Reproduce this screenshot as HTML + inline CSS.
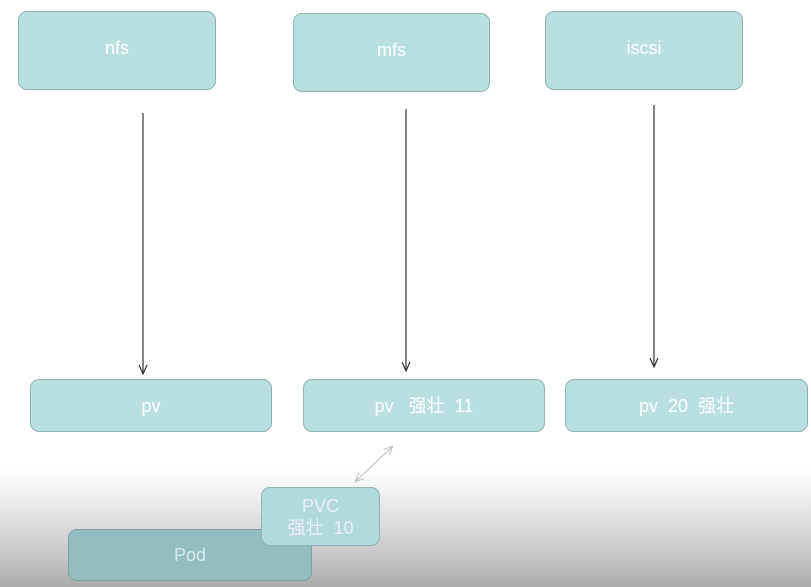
<!DOCTYPE html>
<html><head><meta charset="utf-8"><style>
html,body{margin:0;padding:0}
body{width:811px;height:587px;position:relative;overflow:hidden;font-family:"Liberation Sans","Noto Sans CJK SC",sans-serif;
background:linear-gradient(to bottom,#fff 0px,#fff 470px,#e6e6e6 510px,#c4c4c4 560px,#aaa 587px);}
.b{position:absolute;box-sizing:border-box;background:#b9dfe1;border:1px solid #8fb3b5;border-radius:9px;color:#fff;display:flex;align-items:center;justify-content:center;font-size:18px;text-align:center;line-height:22px}
svg{position:absolute;left:0;top:0}
</style></head><body>
<div class="b" style="left:18px;top:11px;width:198px;height:79px;padding-bottom:6px">nfs</div>
<div class="b" style="left:293px;top:13px;width:197px;height:79px;padding-bottom:6px">mfs</div>
<div class="b" style="left:545px;top:11px;width:198px;height:79px;padding-bottom:6px">iscsi</div>
<div class="b" style="left:30px;top:379px;width:242px;height:53px">pv</div>
<div class="b" style="left:303px;top:379px;width:242px;height:53px">pv &nbsp; 强壮 &nbsp;11</div>
<div class="b" style="left:565px;top:379px;width:243px;height:53px">pv &nbsp;20 &nbsp;强壮</div>
<div class="b" style="left:68px;top:529px;width:244px;height:52px;background:#93bdbf;border-color:#7a9fa1;color:#d8ecec">Pod</div>
<div class="b" style="left:261px;top:487px;width:119px;height:59px;background:#b2d9db;color:#eef">PVC<br>强壮 &nbsp;10</div>
<svg width="811" height="587">
<defs><marker id="a" markerWidth="10" markerHeight="10" refX="8" refY="5" orient="auto" markerUnits="userSpaceOnUse"><path d="M0,1 L9,5 L0,9" fill="none" stroke="#333" stroke-width="1.2"/></marker>
<marker id="c" markerWidth="10" markerHeight="10" refX="8" refY="5" orient="auto-start-reverse" markerUnits="userSpaceOnUse"><path d="M0,1 L9,5 L0,9" fill="none" stroke="#bbb" stroke-width="1"/></marker></defs>
<line x1="143" y1="113" x2="143" y2="373" stroke="#333" stroke-width="1.2" marker-end="url(#a)"/>
<line x1="406" y1="109" x2="406" y2="370" stroke="#333" stroke-width="1.2" marker-end="url(#a)"/>
<line x1="654" y1="105" x2="654" y2="366" stroke="#333" stroke-width="1.2" marker-end="url(#a)"/>
<line x1="392" y1="447" x2="356" y2="481" stroke="#bbb" stroke-width="1" marker-start="url(#c)" marker-end="url(#c)"/>
</svg>
</body></html>
